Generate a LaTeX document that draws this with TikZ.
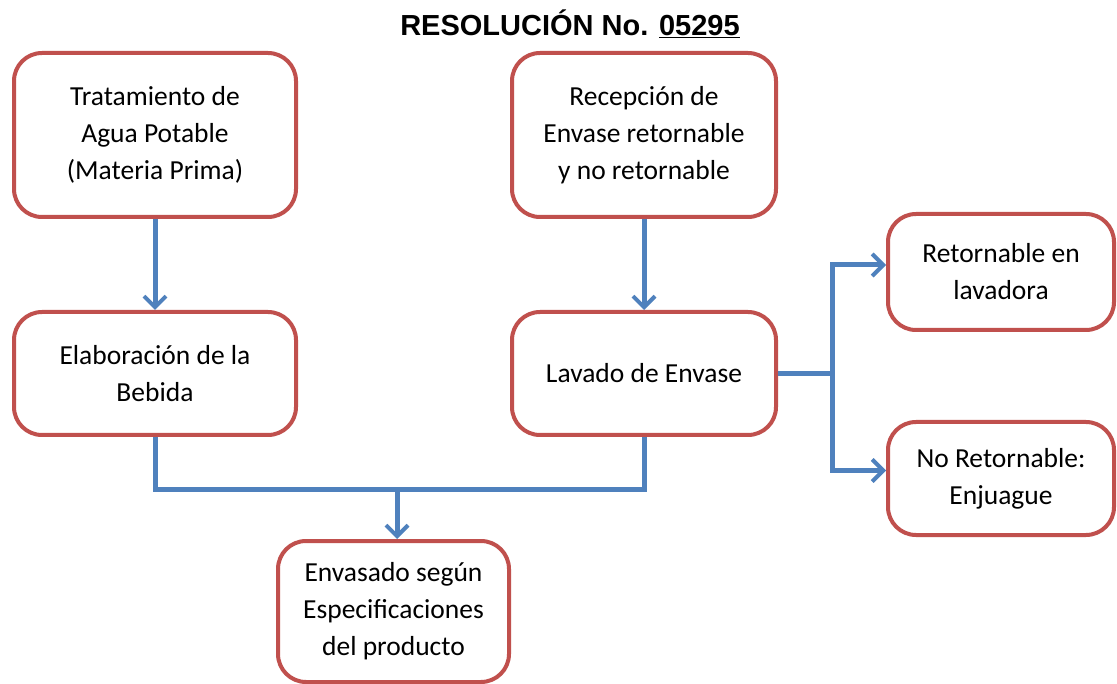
\documentclass[tikz,border=0pt]{standalone}
\usepackage{fontspec}
\setmainfont{Carlito}
\newfontfamily\titlefont{Liberation Sans}
\usetikzlibrary{arrows.meta}
\definecolor{boxred}{RGB}{192,80,77}
\definecolor{arrowblue}{RGB}{79,129,189}
\begin{document}
\begin{tikzpicture}[x=1pt,y=-1pt,
  box/.style={draw=boxred, line width=4pt, rounded corners=28pt, fill=white,
    align=center, inner sep=0pt, font=\fontsize{27.5}{37}\selectfont},
  link/.style={draw=arrowblue, line width=5pt, line join=miter},
  conn/.style={link, -{Straight Barb[length=11pt,width=22pt,line width=4pt]}}]
\path[use as bounding box, fill=white] (0,0) rectangle (1117,684);
\node[font=\titlefont\bfseries\fontsize{29}{34}\selectfont] (title) at (570,24) {RESOLUCIÓN No. \underline{05295}};
\node[box, minimum width=282pt, minimum height=164pt] (A) at (155,135) {Tratamiento de\\Agua Potable\\(Materia Prima)};
\node[box, minimum width=264pt, minimum height=164pt] (B) at (644,135) {Recepción de\\Envase retornable\\y no retornable};
\node[box, minimum width=282pt, minimum height=123pt] (C) at (155,373.5) {Elaboración de la\\Bebida};
\node[box, minimum width=264pt, minimum height=123pt] (D) at (644,373.5) {Lavado de Envase};
\node[box, minimum width=226pt, minimum height=116pt] (E) at (1001,272) {Retornable en\\lavadora};
\node[box, minimum width=226pt, minimum height=113pt] (F) at (1001,478.5) {No Retornable:\\Enjuague};
\node[box, minimum width=231pt, minimum height=141pt] (G) at (393.5,611.5) {Envasado según\\Especificaciones\\del producto};
\coordinate (j) at (397,490);
\coordinate (k) at (832,373.5);
\draw[conn] (A.south) -- (C.north);
\draw[conn] (B.south) -- (D.north);
\draw[link] (C.south) |- (j) -| (D.south);
\draw[conn] (j) -- (j |- G.north);
\draw[link] (D.east) -- (k);
\draw[conn] (k) |- ([yshift=7pt]E.west);
\draw[conn] (k) |- ([yshift=8pt]F.west);
\end{tikzpicture}
\end{document}
